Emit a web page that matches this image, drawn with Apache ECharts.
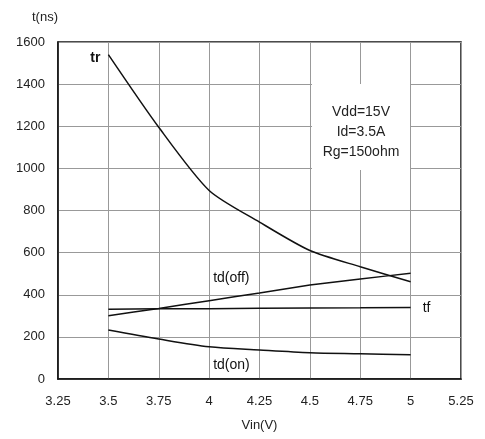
<!DOCTYPE html>
<html>
<head>
<meta charset="utf-8">
<script src="https://cdn.jsdelivr.net/npm/echarts@6/dist/echarts.min.js"></script>
<style>
  html, body { margin: 0; padding: 0; background: #fff; }
  #chart { width: 485px; height: 439px; }
</style>
</head>
<body>
<div id="chart"></div>
<script>
// data
var vin = [3.5, 3.75, 4, 4.25, 4.5, 4.75, 5];
var tr = [1540, 1195, 895, 745, 610, 533, 462];
var tdOff = [300, 335, 372, 408, 446, 475, 502];
var tf = [331, 333, 334, 336, 337, 338, 340];
var tdOn = [233, 190, 153, 138, 125, 120, 115];
var xTicks = [3.25, 3.5, 3.75, 4, 4.25, 4.5, 4.75, 5, 5.25];
var yTicks = [0, 200, 400, 600, 800, 1000, 1200, 1400, 1600];

function pairs(ys) {
  var out = [];
  for (var i = 0; i < vin.length; i++) out.push([vin[i], ys[i]]);
  return out;
}

var font = 'Liberation Sans, Arial, sans-serif';
var chart = echarts.init(document.getElementById('chart'));

// curve name tag placed next to one of its own points
function tag(text, idx, ys, position, offset, bold) {
  return {
    symbol: 'circle',
    symbolSize: 0,
    data: [{
      coord: [vin[idx], ys[idx]],
      label: {
        show: true,
        formatter: text,
        position: position,
        offset: offset,
        distance: 0,
        fontSize: 14,
        fontWeight: bold ? 'bold' : 'normal',
        color: '#111',
        fontFamily: font
      }
    }]
  };
}

function lineSeries(name, ys, smooth, mp) {
  return {
    name: name,
    type: 'line',
    data: pairs(ys),
    smooth: smooth,
    symbol: 'none',
    lineStyle: { color: '#111', width: 1.5 },
    markPoint: mp
  };
}

chart.setOption({
  animation: false,
  grid: { left: 58, top: 42, right: 24, bottom: 60, show: true, borderColor: '#111', borderWidth: 1.5 },
  xAxis: {
    type: 'value',
    min: xTicks[0],
    max: xTicks[xTicks.length - 1],
    interval: 0.25,
    name: 'Vin(V)',
    nameLocation: 'middle',
    nameGap: 40,
    nameTextStyle: { fontSize: 13, color: '#222', fontFamily: font },
    axisLine: { lineStyle: { color: '#111', width: 1.5 } },
    axisTick: { show: false },
    axisLabel: { fontSize: 13, color: '#222', margin: 16, fontFamily: font },
    splitLine: { lineStyle: { color: '#999', width: 1 } }
  },
  yAxis: {
    type: 'value',
    min: yTicks[0],
    max: yTicks[yTicks.length - 1],
    interval: 200,
    name: 't(ns)',
    nameLocation: 'end',
    nameGap: 18,
    nameTextStyle: { fontSize: 13, color: '#222', fontFamily: font, align: 'right' },
    axisLine: { lineStyle: { color: '#111', width: 1.5 } },
    axisTick: { show: false },
    axisLabel: { fontSize: 13, color: '#222', margin: 13, fontFamily: font, formatter: function (v) { return String(v); } },
    splitLine: { lineStyle: { color: '#999', width: 1 } }
  },
  graphic: [{
    type: 'rect',
    shape: { x: 312, y: 84, width: 98, height: 86 },
    style: { fill: '#fff' },
    z: 10
  }, {
    type: 'text',
    x: 361,
    y: 102,
    z: 11,
    style: {
      text: 'Vdd=15V\nId=3.5A\nRg=150ohm',
      fill: '#222',
      font: '14px ' + font,
      lineHeight: 20,
      align: 'center'
    }
  }],
  series: [
    lineSeries('tr', tr, 0.25, tag('tr', 0, tr, 'left', [-8, 4], true)),
    lineSeries('td(off)', tdOff, 0.1, tag('td(off)', 2, tdOff, 'right', [4, -23], false)),
    lineSeries('tf', tf, 0, tag('tf', 6, tf, 'right', [12, 1], false)),
    lineSeries('td(on)', tdOn, 0.3, tag('td(on)', 2, tdOn, 'right', [4, 18], false))
  ]
});
</script>
</body>
</html>
